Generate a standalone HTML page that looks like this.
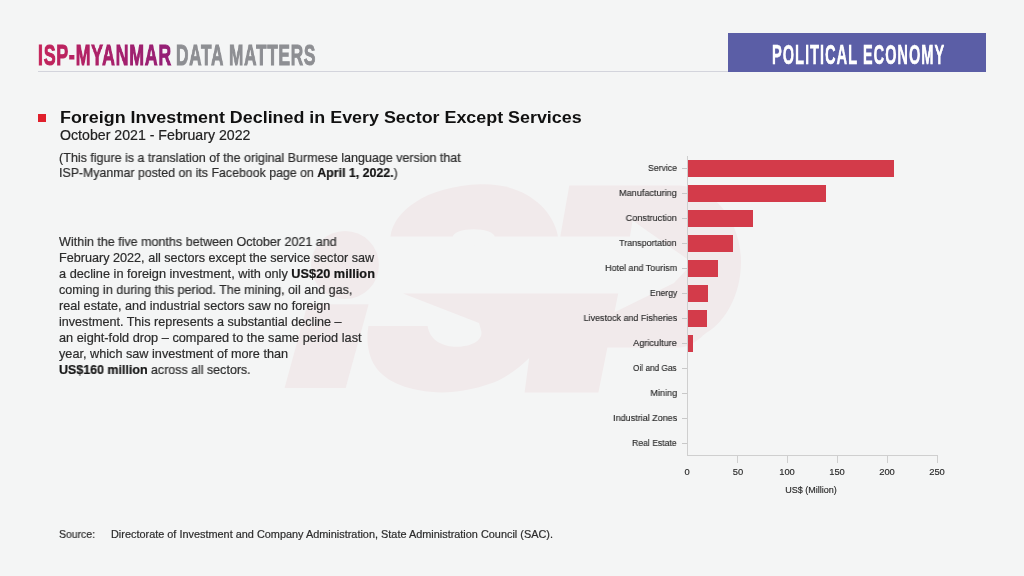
<!DOCTYPE html>
<html><head><meta charset="utf-8"><style>
*{margin:0;padding:0;box-sizing:border-box}
html,body{width:1024px;height:576px;overflow:hidden;background:#f4f5f5}
body{position:relative;font-family:"Liberation Sans",sans-serif;-webkit-font-smoothing:antialiased}
.t,.yl,.xl,.xt,.logo{will-change:transform}
.t{position:absolute;white-space:nowrap;line-height:1;transform-origin:0 0;-webkit-text-stroke:0.2px currentColor}
.t b{font-weight:700;color:#151515}
.bar{position:absolute;background:#d33b4a}
.yt{position:absolute;left:682px;width:6px;height:1px;background:#c8c8c8}
.yl{position:absolute;right:347px;white-space:nowrap;line-height:1;color:#2a2a2a;-webkit-text-stroke:0.15px currentColor;transform-origin:100% 0}
.ax{position:absolute;background:#cfcfcf}
.xl{position:absolute;width:40px;text-align:center;font-size:9.4px;line-height:1;color:#2a2a2a;-webkit-text-stroke:0.15px currentColor}
.xt{position:absolute;text-align:center;font-size:9px;line-height:1;color:#2a2a2a;-webkit-text-stroke:0.15px currentColor}
.logo{position:absolute;white-space:nowrap;line-height:1;transform-origin:0 0}
#t0{-webkit-text-stroke:0 !important} .logo{-webkit-text-stroke:1px currentColor;letter-spacing:1.2px} .logo span{-webkit-text-stroke:1px currentColor} #lg3{-webkit-text-stroke:0.6px #fff;letter-spacing:1.8px}
</style></head><body>
<svg style="position:absolute;left:0;top:0" width="1024" height="576" viewBox="0 0 1024 576">
<g fill="#f1eaeb">
<circle cx="345" cy="265" r="34"/>
<polygon points="307.5,304.3 368.6,304.3 345.7,388 284.6,388"/>
<path d="M390.5,236.4 C393,212 425,186 481,184.2 C520,183 552,205 558,236.4 Z"/>
<path d="M569.3,185.6 L680,185.6 C715,188 741,222 741,262 C741,295 725,322 706,333 C698,340 690,347 680,347.5 L604,347.5 L611,314 L674,283 L693,263 L632.5,220.6 L630,236.4 L560.3,236.4 Z"/>
<path d="M403,293.6 L618.2,293.6 L598.4,392.6 L524.6,392.6 L529.2,358 C515,372 500,381 489,384 C475,389 458,392.4 442,392.4 C410,392 385,382 375,366 C368,355 366,340 368.4,326.1 L427.6,326.1 C430,342 445,347 457,346.8 C472,346.5 484,340 481,330 L479,323 Z"/>
</g>
<ellipse cx="473.7" cy="237.4" rx="21.1" ry="8.2" fill="#f4f5f5"/>
</svg>

<div style="position:absolute;left:38px;top:71px;width:690px;height:1px;background:#d3d4dc"></div>
<div style="position:absolute;left:728px;top:33px;width:258px;height:39px;background:#5b5ea6"></div>
<div style="position:absolute;left:38px;top:114px;width:8px;height:8px;background:#e0202c"></div>
<div class="logo" id="lg1" style="left:38.00px;top:40.34px;font-size:29.6px;font-weight:700;transform:scaleX(0.6016)"><span style="color:rgb(196, 36, 90)">I</span><span style="color:rgb(191, 36, 93)">S</span><span style="color:rgb(187, 35, 96)">P</span><span style="color:rgb(182, 35, 98)">-</span><span style="color:rgb(178, 34, 101)">M</span><span style="color:rgb(173, 34, 104)">Y</span><span style="color:rgb(168, 34, 107)">A</span><span style="color:rgb(164, 33, 110)">N</span><span style="color:rgb(159, 33, 112)">M</span><span style="color:rgb(155, 32, 115)">A</span><span style="color:rgb(150, 32, 118)">R</span></div>
<div class="logo" id="lg2" style="left:176.00px;top:40.34px;font-size:29.6px;font-weight:700;transform:scaleX(0.5830);color:#8e8f93">DATA MATTERS</div>
<div class="logo" id="lg3" style="left:772.00px;top:40.59px;font-size:27.3px;font-weight:700;transform:scaleX(0.5366);color:#ffffff">POLITICAL ECONOMY</div>
<div class="t" id="t0" style="left:60.00px;top:109.56px;font-size:16px;font-weight:700;transform:scaleX(1.1174);color:#111">Foreign Investment Declined in Every Sector Except Services</div>
<div class="t" id="t1" style="left:60.00px;top:128.15px;font-size:14px;font-weight:400;transform:scaleX(1.0112);color:#222">October 2021 - February 2022</div>
<div class="t" id="t2" style="left:59.20px;top:151.73px;font-size:12.6px;font-weight:400;transform:scaleX(0.9931);color:#2c2c2c">(This figure is a translation of the original Burmese language version that</div>
<div class="t" id="t3" style="left:59.20px;top:166.73px;font-size:12.6px;font-weight:400;transform:scaleX(0.9811);color:#2c2c2c">ISP-Myanmar posted on its Facebook page on <b>April 1, 2022.</b>)</div>
<div class="t" id="p0" style="left:59.10px;top:235.73px;font-size:12.6px;font-weight:400;transform:scaleX(0.9943);color:#2c2c2c">Within the five months between October 2021 and</div>
<div class="t" id="p1" style="left:59.10px;top:251.73px;font-size:12.6px;font-weight:400;transform:scaleX(1.0026);color:#2c2c2c">February 2022, all sectors except the service sector saw</div>
<div class="t" id="p2" style="left:59.10px;top:267.73px;font-size:12.6px;font-weight:400;transform:scaleX(1.0119);color:#2c2c2c">a decline in foreign investment, with only <b>US$20 million</b></div>
<div class="t" id="p3" style="left:59.10px;top:283.73px;font-size:12.6px;font-weight:400;transform:scaleX(0.9959);color:#2c2c2c">coming in during this period. The mining, oil and gas,</div>
<div class="t" id="p4" style="left:59.10px;top:299.73px;font-size:12.6px;font-weight:400;transform:scaleX(1.0041);color:#2c2c2c">real estate, and industrial sectors saw no foreign</div>
<div class="t" id="p5" style="left:59.10px;top:315.73px;font-size:12.6px;font-weight:400;transform:scaleX(1.0000);color:#2c2c2c">investment. This represents a substantial decline &#8211;</div>
<div class="t" id="p6" style="left:59.10px;top:331.73px;font-size:12.6px;font-weight:400;transform:scaleX(1.0121);color:#2c2c2c">an eight-fold drop &#8211; compared to the same period last</div>
<div class="t" id="p7" style="left:59.10px;top:347.73px;font-size:12.6px;font-weight:400;transform:scaleX(1.0071);color:#2c2c2c">year, which saw investment of more than</div>
<div class="t" id="p8" style="left:59.10px;top:363.73px;font-size:12.6px;font-weight:400;transform:scaleX(0.9882);color:#2c2c2c"><b>US$160 million</b> across all sectors.</div>
<div class="t" id="s0" style="left:58.80px;top:528.66px;font-size:10.8px;font-weight:400;transform:scaleX(0.9672);color:#2c2c2c">Source:</div>
<div class="t" id="s1" style="left:110.70px;top:528.66px;font-size:10.8px;font-weight:400;transform:scaleX(1.0089);color:#2c2c2c">Directorate of Investment and Company Administration, State Administration Council (SAC).</div>
<div class="bar" style="left:688.0px;top:159.95px;width:205.75px;height:17.5px"></div>
<div class="yt" style="top:168.20px"></div>
<div class="yl" id="y0" style="top:163.07px;font-size:9.6px;transform:scaleX(0.9073)">Service</div>
<div class="bar" style="left:688.0px;top:184.90px;width:138.00px;height:17.5px"></div>
<div class="yt" style="top:193.15px"></div>
<div class="yl" id="y1" style="top:188.02px;font-size:9.6px;transform:scaleX(0.9506)">Manufacturing</div>
<div class="bar" style="left:688.0px;top:209.85px;width:64.80px;height:17.5px"></div>
<div class="yt" style="top:218.10px"></div>
<div class="yl" id="y2" style="top:212.97px;font-size:9.6px;transform:scaleX(0.9503)">Construction</div>
<div class="bar" style="left:688.0px;top:234.80px;width:45.30px;height:17.5px"></div>
<div class="yt" style="top:243.05px"></div>
<div class="yl" id="y3" style="top:237.92px;font-size:9.6px;transform:scaleX(0.9344)">Transportation</div>
<div class="bar" style="left:688.0px;top:259.75px;width:30.00px;height:17.5px"></div>
<div class="yt" style="top:268.00px"></div>
<div class="yl" id="y4" style="top:262.87px;font-size:9.6px;transform:scaleX(0.9342)">Hotel and Tourism</div>
<div class="bar" style="left:688.0px;top:284.70px;width:20.20px;height:17.5px"></div>
<div class="yt" style="top:292.95px"></div>
<div class="yl" id="y5" style="top:287.82px;font-size:9.6px;transform:scaleX(0.9050)">Energy</div>
<div class="bar" style="left:688.0px;top:309.65px;width:19.10px;height:17.5px"></div>
<div class="yt" style="top:317.90px"></div>
<div class="yl" id="y6" style="top:312.77px;font-size:9.6px;transform:scaleX(0.9342)">Livestock and Fisheries</div>
<div class="bar" style="left:688.0px;top:334.60px;width:4.90px;height:17.5px"></div>
<div class="yt" style="top:342.85px"></div>
<div class="yl" id="y7" style="top:337.72px;font-size:9.6px;transform:scaleX(0.9535)">Agriculture</div>
<div class="yt" style="top:367.80px"></div>
<div class="yl" id="y8" style="top:362.67px;font-size:9.6px;transform:scaleX(0.8623)">Oil and Gas</div>
<div class="yt" style="top:392.75px"></div>
<div class="yl" id="y9" style="top:387.62px;font-size:9.6px;transform:scaleX(0.9523)">Mining</div>
<div class="yt" style="top:417.70px"></div>
<div class="yl" id="y10" style="top:412.57px;font-size:9.6px;transform:scaleX(0.9403)">Industrial Zones</div>
<div class="yt" style="top:442.65px"></div>
<div class="yl" id="y11" style="top:437.52px;font-size:9.6px;transform:scaleX(0.8975)">Real Estate</div>
<div class="ax" style="left:687.0px;top:156px;width:1px;height:300px"></div>
<div class="ax" style="left:687.0px;top:455px;width:251px;height:1px"></div>
<div class="xl" style="left:666.70px;top:466.64px">0</div>
<div class="ax" style="left:737.35px;top:455px;width:1px;height:8px"></div>
<div class="xl" style="left:717.55px;top:466.64px">50</div>
<div class="ax" style="left:787.20px;top:455px;width:1px;height:8px"></div>
<div class="xl" style="left:767.40px;top:466.64px">100</div>
<div class="ax" style="left:837.05px;top:455px;width:1px;height:8px"></div>
<div class="xl" style="left:817.25px;top:466.64px">150</div>
<div class="ax" style="left:886.90px;top:455px;width:1px;height:8px"></div>
<div class="xl" style="left:867.10px;top:466.64px">200</div>
<div class="ax" style="left:936.75px;top:455px;width:1px;height:8px"></div>
<div class="xl" style="left:916.95px;top:466.64px">250</div>
<div class="xt" style="left:761px;top:485.58px;width:100px">US$ (Million)</div>
</body></html>
